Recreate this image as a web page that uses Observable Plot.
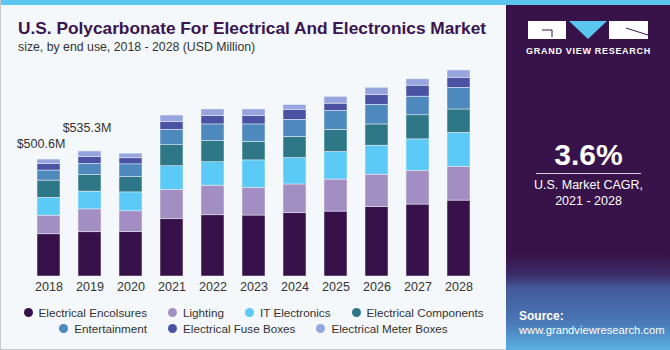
<!DOCTYPE html>
<html>
<head>
<meta charset="utf-8">
<script src="https://cdn.jsdelivr.net/npm/d3@7"></script>
<script src="https://cdn.jsdelivr.net/npm/@observablehq/plot@0.6"></script>
<style>
  html, body { margin: 0; padding: 0; }
  body { width: 670px; height: 350px; overflow: hidden; font-family: "Liberation Sans", Arial, sans-serif; }
  #wrap { position: relative; width: 670px; height: 350px; background: #f4f8fb; box-sizing: border-box; border-left: 1px solid #c9c9c9; border-bottom: 1px solid #c9c9c9; }
  #strip { position: absolute; left: 0; top: 0; width: 670px; height: 5px; background: #5bc7f0; }
  #title { position: absolute; left: 17px; top: 18px; font-size: 17.3px; font-weight: bold; color: #3a1450; white-space: nowrap; }
  #subtitle { position: absolute; left: 17px; top: 39.5px; font-size: 12.3px; color: #333; white-space: nowrap; }
  #chart { position: absolute; left: 0; top: 40px; }
  #legend { position: absolute; left: 0; top: 304px; width: 505px; font-size: 11.7px; color: #333; }
  .row { display: flex; justify-content: center; height: 16px; align-items: center; }
  .item { display: flex; align-items: center; margin: 0 10.5px; white-space: nowrap; }
  .dot { width: 9px; height: 9px; border-radius: 50%; margin-right: 6px; }
  #panel { position: absolute; left: 505px; top: 5px; width: 165px; height: 345px;
    background: linear-gradient(to bottom, #37134a 0%, #37134a 72%, #3b2a66 78%, #44589a 82%, #4a78b6 92%, #5ab0e2 100%); }
  #logo { position: absolute; left: 22px; top: 15px; }
  #gvr { position: absolute; left: 0; width: 165px; top: 41px; text-align: center; color: #fff; font-size: 9px; font-weight: bold; letter-spacing: 0.7px; }
  #cagr { position: absolute; left: 0; width: 165px; top: 133px; text-align: center; color: #fff; font-size: 30px; font-weight: bold; }
  #rule { position: absolute; left: 30px; width: 105px; top: 168px; height: 1px; background: #d8d0e0; }
  #cagrtxt { position: absolute; left: 0; width: 165px; top: 172px; text-align: center; color: #fff; font-size: 12.5px; line-height: 16px; }
  #source { position: absolute; left: 13px; top: 304px; color: #fff; font-size: 11.2px; line-height: 14px; }
</style>
</head>
<body>
<div id="wrap">
  <div id="strip"></div>
  <div id="title">U.S. Polycarbonate For Electrical And Electronics Market</div>
  <div id="subtitle">size, by end use, 2018 - 2028 (USD Million)</div>
  <div id="chart"></div>
  <div id="legend"></div>
  <div id="panel">
    <svg id="logo" width="125" height="22" viewBox="0 0 125 22">
      <rect x="0" y="1" width="38" height="18" fill="#fff"/>
      <path d="M14 10 H24 V17" stroke="#37134a" stroke-width="1" fill="none"/>
      <polygon points="41,1 79,1 60,19" fill="#5bc7f0"/>
      <rect x="81" y="1" width="39" height="18" fill="#fff"/>
      <path d="M98 8 L120 15" stroke="#37134a" stroke-width="1" fill="none"/>
    </svg>
    <div id="gvr">GRAND VIEW RESEARCH</div>
    <div id="cagr">3.6%</div>
    <div id="rule"></div>
    <div id="cagrtxt">U.S. Market CAGR,<br>2021 - 2028</div>
    <div id="source"><b style="font-size:12px">Source:</b><br>www.grandviewresearch.com</div>
  </div>
</div>
<script>
const years = [2018, 2019, 2020, 2021, 2022, 2023, 2024, 2025, 2026, 2027, 2028];
const seriesNames = ["Electrical Encolsures", "Lighting", "IT Electronics", "Electrical Components", "Entertainment", "Electrical Fuse Boxes", "Electrical Meter Boxes"];
const seriesColors = ["#37124a", "#a38ec4", "#5bcaf6", "#2e7787", "#4d89bd", "#4a52a3", "#97a5de"];
const electricalEnclosures = [180.6, 189.3, 191, 245, 262, 261, 272, 278, 298, 308, 325];
const lighting = [80, 98, 88, 126, 127, 118, 122, 137, 138, 145, 145];
const itElectronics = [76, 76, 81, 101, 100, 118, 113, 118, 124, 134, 145];
const electricalComponents = [74, 71, 66, 90, 91, 80, 91, 95, 91, 103, 100];
const entertainment = [43, 48, 54, 66, 71, 74, 73, 81, 84, 80, 93];
const fuseBoxes = [27, 30, 26, 34, 37, 37, 43, 31, 43, 47, 43];
const meterBoxes = [20, 23, 20, 27, 27, 27, 20, 29, 30, 27, 31];
const valueLabels = ["$500.6M", "$535.3M"];

const seriesValues = [electricalEnclosures, lighting, itElectronics, electricalComponents, entertainment, fuseBoxes, meterBoxes];
const rows = [];
seriesNames.forEach((s, si) => years.forEach((y, yi) => rows.push({year: y, series: s, value: seriesValues[si][yi]})));
const totals = years.map((y, yi) => ({year: y, total: d3.sum(seriesValues, a => a[yi])}));
const lab0 = [{...totals[0], label: valueLabels[0]}];
const lab1 = [{...totals[1], label: valueLabels[1]}];

const chart = Plot.plot({
  width: 505,
  height: 260,
  marginLeft: 13,
  marginRight: 12,
  marginTop: 2.4,
  marginBottom: 24,
  style: {background: "transparent", fontFamily: "Liberation Sans, Arial, sans-serif", fontSize: "12.5px", color: "#333", overflow: "visible"},
  x: {type: "band", domain: years, padding: 0.43, label: null, tickSize: 0, tickPadding: 6, tickFormat: d => String(d)},
  y: {domain: [0, 1000], axis: null},
  color: {domain: seriesNames, range: seriesColors},
  marks: [
    Plot.barY(rows, {x: "year", y: "value", fill: "series", order: seriesNames, stroke: "#eef1f8", strokeWidth: 0.5}),
    Plot.text(lab0, {x: "year", y: "total", text: "label", dy: -16, dx: -8, fill: "#333", fontSize: 12.5}),
    Plot.text(lab1, {x: "year", y: "total", text: "label", dy: -23, dx: -3, fill: "#333", fontSize: 12.5})
  ]
});
document.getElementById("chart").appendChild(chart);

const legend = document.getElementById("legend");
const layout = [[0, 1, 2, 3], [4, 5, 6]];
layout.forEach(r => {
  const row = document.createElement("div");
  row.className = "row";
  r.forEach(i => {
    const it = document.createElement("div");
    it.className = "item";
    it.innerHTML = `<span class="dot" style="background:${seriesColors[i]}"></span>${seriesNames[i]}`;
    row.appendChild(it);
  });
  legend.appendChild(row);
});
</script>
</body>
</html>
